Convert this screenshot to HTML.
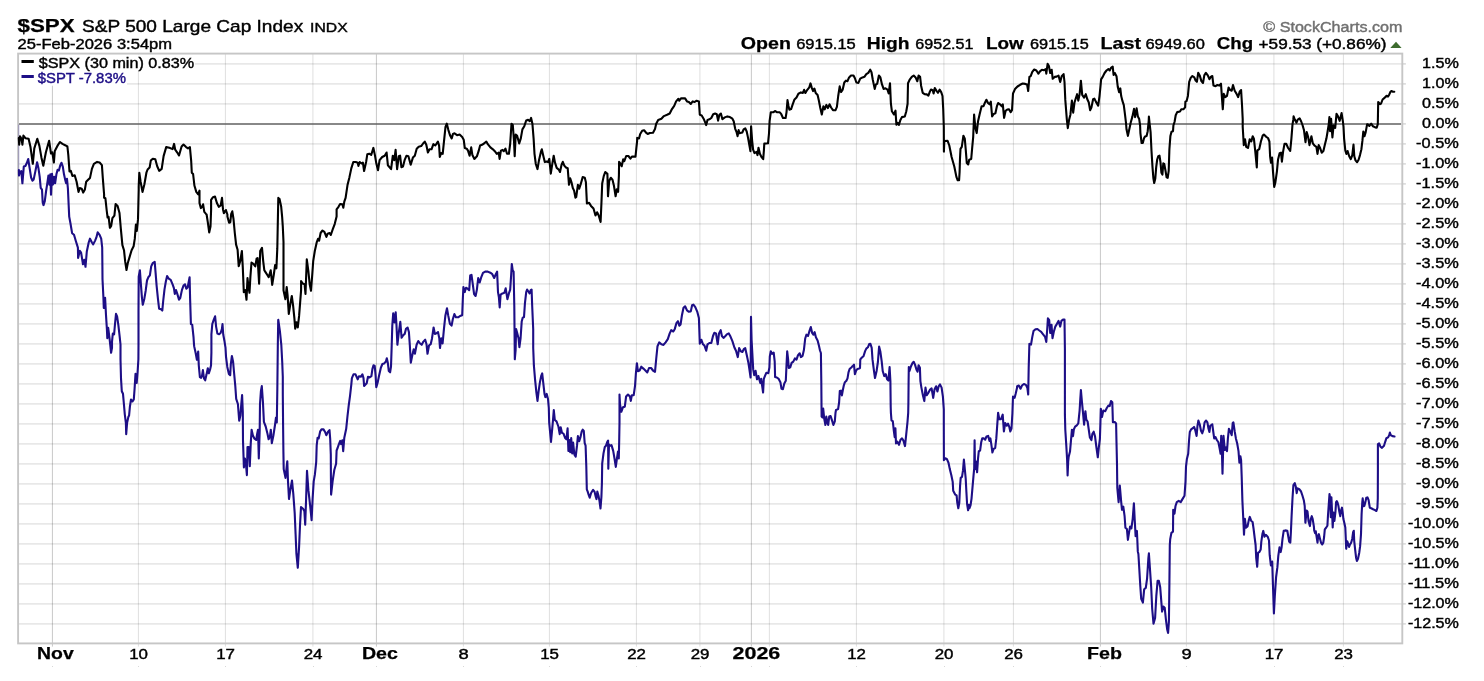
<!DOCTYPE html>
<html><head><meta charset="utf-8"><title>$SPX</title>
<style>html,body{margin:0;padding:0;background:#fff;}body{width:1484px;height:681px;overflow:hidden;font-family:"Liberation Sans",sans-serif;}svg{display:block;}text{font-family:"Liberation Sans",sans-serif;}</style>
</head><body><div style="will-change:transform;width:1484px;height:681px;">
<svg width="1484" height="681" viewBox="0 0 1484 681">
<rect x="0" y="0" width="1484" height="681" fill="#ffffff"/>
<g>
<line x1="18.1" y1="63.93" x2="1402.3" y2="63.93" stroke="rgba(0,0,0,0.16)" stroke-width="1"/>
<line x1="18.1" y1="83.93" x2="1402.3" y2="83.93" stroke="rgba(0,0,0,0.16)" stroke-width="1"/>
<line x1="18.1" y1="103.93" x2="1402.3" y2="103.93" stroke="rgba(0,0,0,0.16)" stroke-width="1"/>
<line x1="18.1" y1="143.93" x2="1402.3" y2="143.93" stroke="rgba(0,0,0,0.16)" stroke-width="1"/>
<line x1="18.1" y1="163.93" x2="1402.3" y2="163.93" stroke="rgba(0,0,0,0.16)" stroke-width="1"/>
<line x1="18.1" y1="183.93" x2="1402.3" y2="183.93" stroke="rgba(0,0,0,0.16)" stroke-width="1"/>
<line x1="18.1" y1="203.93" x2="1402.3" y2="203.93" stroke="rgba(0,0,0,0.16)" stroke-width="1"/>
<line x1="18.1" y1="223.93" x2="1402.3" y2="223.93" stroke="rgba(0,0,0,0.16)" stroke-width="1"/>
<line x1="18.1" y1="243.93" x2="1402.3" y2="243.93" stroke="rgba(0,0,0,0.16)" stroke-width="1"/>
<line x1="18.1" y1="263.93" x2="1402.3" y2="263.93" stroke="rgba(0,0,0,0.16)" stroke-width="1"/>
<line x1="18.1" y1="283.93" x2="1402.3" y2="283.93" stroke="rgba(0,0,0,0.16)" stroke-width="1"/>
<line x1="18.1" y1="303.93" x2="1402.3" y2="303.93" stroke="rgba(0,0,0,0.16)" stroke-width="1"/>
<line x1="18.1" y1="323.93" x2="1402.3" y2="323.93" stroke="rgba(0,0,0,0.16)" stroke-width="1"/>
<line x1="18.1" y1="343.93" x2="1402.3" y2="343.93" stroke="rgba(0,0,0,0.16)" stroke-width="1"/>
<line x1="18.1" y1="363.93" x2="1402.3" y2="363.93" stroke="rgba(0,0,0,0.16)" stroke-width="1"/>
<line x1="18.1" y1="383.93" x2="1402.3" y2="383.93" stroke="rgba(0,0,0,0.16)" stroke-width="1"/>
<line x1="18.1" y1="403.93" x2="1402.3" y2="403.93" stroke="rgba(0,0,0,0.16)" stroke-width="1"/>
<line x1="18.1" y1="423.93" x2="1402.3" y2="423.93" stroke="rgba(0,0,0,0.16)" stroke-width="1"/>
<line x1="18.1" y1="443.93" x2="1402.3" y2="443.93" stroke="rgba(0,0,0,0.16)" stroke-width="1"/>
<line x1="18.1" y1="463.93" x2="1402.3" y2="463.93" stroke="rgba(0,0,0,0.16)" stroke-width="1"/>
<line x1="18.1" y1="483.93" x2="1402.3" y2="483.93" stroke="rgba(0,0,0,0.16)" stroke-width="1"/>
<line x1="18.1" y1="503.93" x2="1402.3" y2="503.93" stroke="rgba(0,0,0,0.16)" stroke-width="1"/>
<line x1="18.1" y1="523.93" x2="1402.3" y2="523.93" stroke="rgba(0,0,0,0.16)" stroke-width="1"/>
<line x1="18.1" y1="543.93" x2="1402.3" y2="543.93" stroke="rgba(0,0,0,0.16)" stroke-width="1"/>
<line x1="18.1" y1="563.93" x2="1402.3" y2="563.93" stroke="rgba(0,0,0,0.16)" stroke-width="1"/>
<line x1="18.1" y1="583.93" x2="1402.3" y2="583.93" stroke="rgba(0,0,0,0.16)" stroke-width="1"/>
<line x1="18.1" y1="603.93" x2="1402.3" y2="603.93" stroke="rgba(0,0,0,0.16)" stroke-width="1"/>
<line x1="18.1" y1="623.93" x2="1402.3" y2="623.93" stroke="rgba(0,0,0,0.16)" stroke-width="1"/>
<line x1="52.42" y1="53.6" x2="52.42" y2="646.6" stroke="rgba(0,0,0,0.22)" stroke-width="1"/>
<line x1="138.42" y1="53.6" x2="138.42" y2="646.6" stroke="rgba(0,0,0,0.125)" stroke-width="1"/>
<line x1="225.42" y1="53.6" x2="225.42" y2="646.6" stroke="rgba(0,0,0,0.125)" stroke-width="1"/>
<line x1="312.92" y1="53.6" x2="312.92" y2="646.6" stroke="rgba(0,0,0,0.125)" stroke-width="1"/>
<line x1="376.42" y1="53.6" x2="376.42" y2="646.6" stroke="rgba(0,0,0,0.22)" stroke-width="1"/>
<line x1="463.42" y1="53.6" x2="463.42" y2="646.6" stroke="rgba(0,0,0,0.125)" stroke-width="1"/>
<line x1="549.42" y1="53.6" x2="549.42" y2="646.6" stroke="rgba(0,0,0,0.125)" stroke-width="1"/>
<line x1="636.42" y1="53.6" x2="636.42" y2="646.6" stroke="rgba(0,0,0,0.125)" stroke-width="1"/>
<line x1="699.92" y1="53.6" x2="699.92" y2="646.6" stroke="rgba(0,0,0,0.125)" stroke-width="1"/>
<line x1="751.37" y1="53.6" x2="751.37" y2="646.6" stroke="rgba(0,0,0,0.22)" stroke-width="1"/>
<line x1="769.37" y1="53.6" x2="769.37" y2="646.6" stroke="rgba(0,0,0,0.125)" stroke-width="1"/>
<line x1="856.42" y1="53.6" x2="856.42" y2="646.6" stroke="rgba(0,0,0,0.125)" stroke-width="1"/>
<line x1="943.92" y1="53.6" x2="943.92" y2="646.6" stroke="rgba(0,0,0,0.125)" stroke-width="1"/>
<line x1="1013.42" y1="53.6" x2="1013.42" y2="646.6" stroke="rgba(0,0,0,0.125)" stroke-width="1"/>
<line x1="1100.42" y1="53.6" x2="1100.42" y2="646.6" stroke="rgba(0,0,0,0.22)" stroke-width="1"/>
<line x1="1186.42" y1="53.6" x2="1186.42" y2="646.6" stroke="rgba(0,0,0,0.125)" stroke-width="1"/>
<line x1="1273.92" y1="53.6" x2="1273.92" y2="646.6" stroke="rgba(0,0,0,0.125)" stroke-width="1"/>
<line x1="1343.42" y1="53.6" x2="1343.42" y2="646.6" stroke="rgba(0,0,0,0.125)" stroke-width="1"/>
<line x1="1402.3" y1="63.93" x2="1405.8999999999999" y2="63.93" stroke="#c4c4c4" stroke-width="1"/>
<line x1="1402.3" y1="83.93" x2="1405.8999999999999" y2="83.93" stroke="#c4c4c4" stroke-width="1"/>
<line x1="1402.3" y1="103.93" x2="1405.8999999999999" y2="103.93" stroke="#c4c4c4" stroke-width="1"/>
<line x1="1402.3" y1="123.93" x2="1405.8999999999999" y2="123.93" stroke="#c4c4c4" stroke-width="1"/>
<line x1="1402.3" y1="143.93" x2="1405.8999999999999" y2="143.93" stroke="#c4c4c4" stroke-width="1"/>
<line x1="1402.3" y1="163.93" x2="1405.8999999999999" y2="163.93" stroke="#c4c4c4" stroke-width="1"/>
<line x1="1402.3" y1="183.93" x2="1405.8999999999999" y2="183.93" stroke="#c4c4c4" stroke-width="1"/>
<line x1="1402.3" y1="203.93" x2="1405.8999999999999" y2="203.93" stroke="#c4c4c4" stroke-width="1"/>
<line x1="1402.3" y1="223.93" x2="1405.8999999999999" y2="223.93" stroke="#c4c4c4" stroke-width="1"/>
<line x1="1402.3" y1="243.93" x2="1405.8999999999999" y2="243.93" stroke="#c4c4c4" stroke-width="1"/>
<line x1="1402.3" y1="263.93" x2="1405.8999999999999" y2="263.93" stroke="#c4c4c4" stroke-width="1"/>
<line x1="1402.3" y1="283.93" x2="1405.8999999999999" y2="283.93" stroke="#c4c4c4" stroke-width="1"/>
<line x1="1402.3" y1="303.93" x2="1405.8999999999999" y2="303.93" stroke="#c4c4c4" stroke-width="1"/>
<line x1="1402.3" y1="323.93" x2="1405.8999999999999" y2="323.93" stroke="#c4c4c4" stroke-width="1"/>
<line x1="1402.3" y1="343.93" x2="1405.8999999999999" y2="343.93" stroke="#c4c4c4" stroke-width="1"/>
<line x1="1402.3" y1="363.93" x2="1405.8999999999999" y2="363.93" stroke="#c4c4c4" stroke-width="1"/>
<line x1="1402.3" y1="383.93" x2="1405.8999999999999" y2="383.93" stroke="#c4c4c4" stroke-width="1"/>
<line x1="1402.3" y1="403.93" x2="1405.8999999999999" y2="403.93" stroke="#c4c4c4" stroke-width="1"/>
<line x1="1402.3" y1="423.93" x2="1405.8999999999999" y2="423.93" stroke="#c4c4c4" stroke-width="1"/>
<line x1="1402.3" y1="443.93" x2="1405.8999999999999" y2="443.93" stroke="#c4c4c4" stroke-width="1"/>
<line x1="1402.3" y1="463.93" x2="1405.8999999999999" y2="463.93" stroke="#c4c4c4" stroke-width="1"/>
<line x1="1402.3" y1="483.93" x2="1405.8999999999999" y2="483.93" stroke="#c4c4c4" stroke-width="1"/>
<line x1="1402.3" y1="503.93" x2="1405.8999999999999" y2="503.93" stroke="#c4c4c4" stroke-width="1"/>
<line x1="1402.3" y1="523.93" x2="1405.8999999999999" y2="523.93" stroke="#c4c4c4" stroke-width="1"/>
<line x1="1402.3" y1="543.93" x2="1405.8999999999999" y2="543.93" stroke="#c4c4c4" stroke-width="1"/>
<line x1="1402.3" y1="563.93" x2="1405.8999999999999" y2="563.93" stroke="#c4c4c4" stroke-width="1"/>
<line x1="1402.3" y1="583.93" x2="1405.8999999999999" y2="583.93" stroke="#c4c4c4" stroke-width="1"/>
<line x1="1402.3" y1="603.93" x2="1405.8999999999999" y2="603.93" stroke="#c4c4c4" stroke-width="1"/>
<line x1="1402.3" y1="623.93" x2="1405.8999999999999" y2="623.93" stroke="#c4c4c4" stroke-width="1"/>
</g>
<rect x="52" y="666" width="1" height="1" fill="#d8d8d8"/>
<rect x="138" y="666" width="1" height="1" fill="#d8d8d8"/>
<rect x="225" y="666" width="1" height="1" fill="#d8d8d8"/>
<rect x="313" y="666" width="1" height="1" fill="#d8d8d8"/>
<rect x="376" y="666" width="1" height="1" fill="#d8d8d8"/>
<rect x="463" y="666" width="1" height="1" fill="#d8d8d8"/>
<rect x="549" y="666" width="1" height="1" fill="#d8d8d8"/>
<rect x="636" y="666" width="1" height="1" fill="#d8d8d8"/>
<rect x="700" y="666" width="1" height="1" fill="#d8d8d8"/>
<rect x="751" y="666" width="1" height="1" fill="#d8d8d8"/>
<rect x="769" y="666" width="1" height="1" fill="#d8d8d8"/>
<rect x="856" y="666" width="1" height="1" fill="#d8d8d8"/>
<rect x="944" y="666" width="1" height="1" fill="#d8d8d8"/>
<rect x="1013" y="666" width="1" height="1" fill="#d8d8d8"/>
<rect x="1100" y="666" width="1" height="1" fill="#d8d8d8"/>
<rect x="1186" y="666" width="1" height="1" fill="#d8d8d8"/>
<rect x="1274" y="666" width="1" height="1" fill="#d8d8d8"/>
<rect x="1343" y="666" width="1" height="1" fill="#d8d8d8"/>
<rect x="19" y="54.5" width="176" height="16" fill="#fff"/>
<rect x="19" y="70.5" width="108" height="15.2" fill="#fff"/>
<line x1="18.1" y1="123.95" x2="1401.2" y2="123.95" stroke="#606060" stroke-width="1.6"/>
<rect x="18.1" y="53.6" width="1384.2" height="589.8" fill="none" stroke="#c6c6c6" stroke-width="1.9"/>
<line x1="18.8" y1="124.5" x2="18.8" y2="172" stroke="#1d0e86" stroke-width="1" opacity="0.3"/>
<path d="M18.9 170.0 L19.0 175.6 L20.0 171.8 L21.3 171.1 L22.4 183.3 L23.8 166.6 L25.4 166.0 L26.9 162.8 L28.2 159.0 L29.8 169.2 L31.1 177.5 L32.4 180.7 L33.7 179.4 L35.4 171.1 L37.1 162.2 L38.4 167.9 L39.7 176.9 L40.7 187.8 L42.0 189.7 L42.7 202.5 L43.5 205.1 L44.8 201.2 L46.1 191.0 L47.1 184.6 L48.4 175.6 L49.4 184.6 L50.3 174.3 L51.0 194.8 L52.0 173.7 L52.9 184.6 L54.2 176.9 L55.1 183.3 L56.4 174.3 L57.6 169.8 L58.9 170.5 L60.2 165.4 L61.5 162.8 L62.8 166.6 L64.0 174.3 L65.1 179.4 L66.1 183.3 L67.0 178.8 L67.9 188.4 L68.6 203.8 L69.2 216.6 L70.4 223.0 L72.1 233.2 L74.0 234.8 L75.9 241.2 L77.9 247.6 L78.1 257.9 L79.8 250.8 L81.1 252.7 L83.0 264.3 L84.3 259.8 L85.5 266.8 L86.8 251.5 L88.7 242.5 L90.0 238.7 L91.9 242.5 L93.2 244.4 L95.1 240.6 L96.4 237.4 L97.7 232.3 L99.6 234.8 L101.2 238.7 L102.2 247.6 L102.4 266.8 L102.5 279.2 L103.4 297.1 L103.8 308.0 L105.1 297.8 L106.0 315.1 L106.9 329.1 L107.3 338.1 L108.2 327.9 L109.5 338.1 L110.2 344.5 L111.1 352.8 L112.0 347.7 L112.0 341.9 L112.8 333.6 L114.1 334.3 L115.0 324.0 L116.0 313.8 L117.1 316.3 L118.4 325.3 L119.7 336.8 L120.5 344.5 L120.5 359.2 L121.0 378.4 L121.8 391.2 L123.0 393.8 L123.9 404.0 L124.8 414.3 L125.9 423.2 L126.2 434.2 L127.1 422.7 L128.4 416.8 L129.1 415.5 L129.9 406.6 L131.0 399.5 L132.5 401.5 L133.8 399.5 L134.6 388.7 L135.5 373.9 L136.7 382.9 L137.6 372.0 L138.4 359.2 L138.5 345.1 L138.5 311.2 L138.7 276.6 L139.9 270.2 L141.0 285.6 L141.9 297.1 L142.8 304.8 L144.4 298.4 L145.7 290.7 L147.0 280.5 L148.3 277.3 L149.9 275.4 L151.2 266.4 L152.7 263.2 L154.7 261.9 L155.6 272.8 L156.6 285.6 L157.9 298.4 L159.1 308.7 L161.1 309.3 L162.3 310.6 L163.2 301.0 L164.5 289.4 L165.8 281.8 L167.1 276.0 L168.7 278.6 L170.7 279.8 L172.6 284.3 L173.9 288.2 L174.8 293.9 L176.0 290.1 L177.3 293.9 L179.0 299.7 L180.3 297.8 L181.9 290.1 L183.5 285.6 L185.0 284.3 L186.3 288.8 L187.6 287.5 L188.6 282.4 L189.6 277.3 L190.1 298.4 L190.9 324.0 L192.2 324.7 L193.5 336.8 L194.0 344.5 L194.2 346.4 L195.6 352.8 L196.9 359.8 L198.2 351.5 L198.8 365.6 L199.9 377.1 L201.1 377.8 L202.0 375.9 L202.9 370.1 L204.0 378.4 L205.2 380.3 L206.5 374.6 L207.8 368.2 L208.8 373.3 L210.1 369.4 L211.0 365.6 L211.4 352.8 L211.4 343.8 L211.4 334.3 L212.3 324.0 L213.6 320.2 L215.1 316.3 L216.1 326.6 L217.4 333.6 L219.1 334.3 L220.6 333.0 L221.9 329.1 L222.5 324.0 L223.2 334.3 L224.4 340.7 L225.2 345.8 L225.5 347.7 L226.0 356.6 L227.3 366.9 L228.9 373.9 L230.2 375.2 L230.8 364.3 L231.9 356.0 L233.1 361.8 L234.0 372.0 L235.3 386.1 L236.2 398.9 L237.9 404.0 L239.2 420.7 L240.4 415.5 L241.3 404.0 L242.1 395.1 L242.8 411.7 L243.0 440.6 L243.9 467.5 L244.9 458.5 L246.0 464.9 L246.9 475.2 L247.5 447.0 L248.8 447.0 L249.8 466.2 L250.7 444.4 L251.6 429.7 L252.9 435.5 L254.5 438.7 L256.2 440.0 L257.1 434.2 L258.0 429.7 L258.8 458.5 L259.7 430.4 L260.0 404.0 L260.9 391.2 L261.8 386.1 L262.9 401.5 L263.9 421.9 L265.7 426.5 L267.3 432.9 L268.6 439.3 L269.9 436.8 L270.8 429.7 L271.8 443.2 L273.4 435.5 L275.0 425.0 L276.0 417.5 L276.8 422.5 L277.3 391.0 L277.8 347.0 L278.2 320.2 L278.3 319.8 L280.0 332.0 L281.3 344.8 L282.2 361.5 L282.8 376.8 L282.8 394.2 L283.1 426.2 L283.4 451.8 L283.7 469.1 L285.5 477.9 L287.3 461.2 L288.0 481.4 L289.0 499.0 L290.3 490.2 L292.0 480.5 L293.3 493.8 L294.7 513.1 L295.6 534.3 L296.4 553.7 L297.8 567.8 L299.1 546.6 L300.0 525.5 L301.0 507.0 L303.1 508.7 L304.4 511.4 L305.2 524.6 L306.1 499.0 L307.0 470.9 L308.4 490.2 L310.2 506.1 L311.6 520.2 L312.6 499.0 L313.7 481.4 L314.9 474.4 L316.2 462.0 L316.7 445.4 L317.6 437.7 L318.7 438.4 L320.2 431.3 L321.5 429.4 L323.5 429.4 L325.1 432.0 L326.3 435.2 L327.9 432.0 L329.5 430.1 L330.2 439.0 L330.8 454.4 L330.9 476.1 L331.1 494.6 L332.6 481.4 L334.3 470.0 L336.1 463.8 L336.6 450.5 L337.6 448.0 L338.9 444.1 L340.2 440.9 L341.1 444.1 L342.3 440.3 L343.2 451.2 L344.3 437.7 L346.2 428.8 L347.5 416.0 L348.7 405.7 L350.0 396.1 L351.3 384.6 L351.9 378.1 L353.5 374.3 L355.5 374.3 L357.7 379.4 L359.0 376.2 L360.9 376.8 L362.4 374.3 L363.5 378.1 L364.0 384.5 L364.1 385.9 L366.7 383.2 L368.0 376.8 L369.6 377.5 L371.4 376.2 L372.4 369.1 L373.5 365.3 L374.7 365.9 L375.6 375.5 L376.1 384.5 L376.3 387.2 L377.8 381.9 L379.1 375.5 L380.8 367.9 L382.4 364.0 L384.2 363.4 L385.9 361.5 L386.8 358.3 L387.8 362.7 L388.8 371.1 L390.1 372.3 L391.0 366.6 L391.6 348.7 L392.3 325.6 L393.2 313.4 L394.5 322.4 L395.7 312.2 L396.5 325.6 L397.4 344.8 L398.7 333.3 L400.3 321.8 L401.6 337.8 L403.2 335.2 L404.7 333.9 L406.0 328.8 L407.6 327.5 L408.9 332.0 L409.8 344.8 L410.8 362.7 L412.1 356.3 L413.7 349.3 L414.9 353.8 L416.6 344.8 L418.3 341.0 L420.1 343.5 L421.7 344.8 L423.4 341.6 L425.2 339.7 L426.5 344.2 L427.5 353.8 L429.0 345.5 L430.7 344.2 L432.0 338.4 L433.6 327.5 L434.9 333.9 L436.5 333.3 L438.0 332.0 L439.3 338.4 L440.0 348.0 L441.3 338.4 L442.6 343.5 L443.9 329.4 L445.4 315.4 L447.0 308.3 L448.2 315.4 L449.9 323.7 L451.6 325.6 L452.8 319.2 L454.4 314.1 L455.9 317.3 L458.2 317.3 L460.0 316.0 L462.2 315.2 L462.8 299.8 L463.4 287.0 L464.7 292.1 L466.0 287.7 L467.9 288.9 L469.2 290.2 L470.2 275.5 L471.5 274.8 L472.8 284.4 L474.1 294.1 L475.6 296.0 L476.9 289.6 L478.2 278.0 L479.7 282.5 L481.4 276.8 L483.0 272.9 L485.2 271.6 L487.8 271.6 L490.3 272.7 L492.3 274.2 L494.2 278.0 L495.8 274.2 L497.1 271.6 L498.0 292.1 L498.9 297.3 L499.7 307.5 L500.6 294.7 L502.5 293.4 L504.4 292.8 L505.7 288.3 L507.4 299.2 L508.9 293.4 L510.2 289.6 L511.2 274.2 L511.8 264.0 L512.7 270.4 L513.6 271.6 L514.3 306.2 L514.8 359.3 L515.6 350.4 L516.1 329.0 L517.2 333.1 L518.5 338.2 L519.4 347.2 L520.6 338.0 L521.7 321.6 L522.7 317.7 L524.0 317.1 L524.9 303.7 L526.2 292.1 L527.1 289.6 L528.4 291.5 L529.6 293.4 L530.7 290.2 L531.6 289.6 L532.2 306.2 L533.2 329.3 L533.2 347.8 L533.9 365.7 L535.1 379.8 L536.4 392.6 L537.5 400.9 L538.6 391.3 L539.9 382.4 L541.2 376.0 L542.2 373.4 L543.2 382.4 L544.5 393.9 L545.4 397.1 L546.7 393.9 L548.0 399.0 L548.8 408.0 L549.2 422.7 L549.7 427.8 L551.0 441.9 L552.3 427.8 L553.0 420.1 L553.8 410.0 L554.8 420.0 L556.5 421.4 L558.4 426.5 L559.7 434.2 L560.7 427.2 L562.0 432.9 L563.5 433.6 L565.1 438.0 L566.4 439.3 L567.6 428.4 L568.4 450.9 L569.3 440.0 L570.2 452.1 L571.2 438.0 L572.2 453.4 L573.1 442.5 L574.4 454.7 L575.7 456.6 L577.0 445.7 L577.9 436.1 L579.2 441.2 L580.4 437.4 L581.7 431.6 L582.7 429.7 L583.8 431.0 L584.7 443.2 L585.6 445.7 L586.3 466.2 L586.8 489.3 L587.7 491.6 L588.7 495.0 L589.7 497.7 L591.1 493.0 L593.1 489.9 L594.5 491.6 L595.8 497.0 L596.5 499.1 L597.3 491.6 L598.5 495.7 L599.5 501.1 L600.5 508.5 L601.4 497.0 L601.9 483.5 L602.2 463.7 L603.5 453.4 L604.8 447.0 L606.0 445.7 L607.3 441.9 L608.1 440.6 L608.3 468.8 L609.0 444.4 L610.3 445.7 L611.5 445.1 L613.2 450.9 L614.5 458.5 L615.8 466.9 L617.1 457.3 L618.0 451.5 L618.8 458.5 L619.2 440.6 L619.5 422.7 L619.5 394.5 L620.0 404.1 L621.3 411.8 L622.9 407.3 L624.8 406.7 L626.1 396.5 L628.0 394.5 L629.9 396.5 L630.8 400.9 L631.8 395.2 L633.7 395.2 L635.0 386.2 L635.9 373.4 L636.9 363.2 L637.9 371.2 L639.6 370.5 L641.3 366.7 L643.4 368.6 L645.4 370.5 L647.3 372.5 L649.0 368.0 L651.1 368.0 L653.0 370.5 L655.0 371.8 L656.2 359.0 L657.5 346.2 L659.2 342.4 L661.4 344.3 L663.5 344.9 L665.6 342.4 L667.8 339.2 L669.7 333.4 L671.2 330.2 L673.3 331.5 L674.8 328.9 L676.4 323.2 L678.0 321.2 L679.3 325.7 L680.6 324.4 L681.9 315.5 L683.5 307.8 L685.1 306.3 L687.0 310.4 L688.6 311.6 L690.8 311.4 L692.1 305.2 L693.4 304.6 L695.3 307.2 L697.2 311.6 L698.9 318.0 L699.8 343.7 L701.4 339.8 L703.0 344.3 L704.5 345.6 L706.2 350.7 L707.5 344.3 L709.4 343.0 L711.3 343.0 L713.0 336.0 L714.3 332.8 L716.0 333.4 L717.7 344.3 L719.0 333.4 L720.7 330.2 L721.9 336.0 L723.5 337.9 L725.4 336.0 L727.1 334.1 L728.8 333.4 L730.5 336.6 L732.4 341.1 L734.4 347.5 L736.0 350.7 L737.8 357.1 L739.1 348.1 L740.8 351.3 L742.4 352.0 L744.0 348.8 L745.2 348.1 L746.8 355.2 L748.4 362.9 L749.1 367.3 L750.6 377.5 L751.0 316.8 L751.6 340.0 L753.2 369.4 L754.2 375.1 L755.6 370.8 L757.0 379.3 L758.4 376.0 L760.3 383.1 L761.2 378.9 L763.1 392.5 L763.8 378.9 L765.3 375.1 L766.4 372.7 L768.3 373.2 L769.4 367.5 L769.8 356.5 L770.8 351.3 L772.1 353.9 L773.7 352.6 L774.7 361.6 L775.1 377.0 L776.8 377.5 L778.7 378.9 L780.4 382.2 L781.5 388.8 L782.9 389.2 L784.3 383.6 L785.8 380.8 L786.5 365.4 L787.2 351.3 L788.1 359.0 L788.8 368.0 L790.3 367.3 L791.6 362.9 L793.3 361.6 L794.9 358.4 L796.5 359.7 L798.0 355.2 L799.7 353.3 L800.9 357.1 L802.6 355.8 L803.9 350.1 L805.2 338.5 L806.4 334.7 L808.0 336.0 L809.5 330.9 L810.8 327.0 L812.1 332.8 L813.4 334.7 L814.6 332.1 L815.9 337.3 L817.6 340.5 L818.9 345.6 L820.0 350.5 L820.9 353.0 L821.3 381.2 L821.6 416.6 L822.5 417.5 L823.2 408.6 L824.2 418.5 L825.4 425.0 L826.3 416.6 L827.3 422.3 L828.2 425.0 L829.2 416.6 L830.6 416.1 L832.0 420.4 L833.4 425.0 L834.8 421.3 L835.5 412.8 L836.0 410.0 L838.1 409.1 L839.1 402.5 L839.8 391.1 L840.9 390.7 L841.9 395.4 L842.8 390.2 L843.8 385.5 L844.9 382.2 L846.4 380.8 L847.5 378.4 L848.5 372.3 L849.6 369.0 L851.3 367.5 L852.7 366.1 L854.0 364.7 L854.9 374.2 L856.2 370.4 L857.5 369.0 L859.1 368.5 L860.0 368.0 L860.3 359.4 L861.9 357.5 L863.5 356.2 L865.1 351.1 L866.3 348.6 L867.9 347.3 L869.2 344.1 L870.4 343.8 L871.7 347.9 L872.5 359.4 L873.8 369.7 L875.0 378.0 L876.6 371.0 L877.9 362.0 L879.1 346.6 L880.4 351.8 L881.7 361.4 L882.7 371.0 L884.3 376.1 L885.8 374.2 L887.1 379.3 L888.4 380.6 L889.6 367.1 L890.4 381.2 L890.7 406.8 L890.9 412.8 L891.5 420.5 L892.8 421.1 L893.8 430.7 L894.7 437.1 L895.4 428.2 L896.0 443.5 L897.3 441.6 L899.0 444.8 L900.5 439.7 L902.0 438.4 L903.3 440.3 L905.0 446.1 L906.2 434.6 L907.5 421.8 L908.2 412.8 L908.4 402.6 L908.6 381.2 L908.8 367.1 L909.5 371.0 L910.9 366.5 L912.4 363.3 L913.7 361.8 L915.0 364.6 L916.5 369.7 L917.6 371.6 L918.6 365.2 L919.9 367.8 L920.4 381.2 L921.4 387.6 L922.9 395.3 L924.3 401.1 L925.5 387.6 L926.8 395.3 L928.4 392.7 L930.1 389.5 L931.6 388.3 L933.2 397.9 L934.5 389.5 L936.1 386.3 L937.4 391.5 L938.7 386.3 L940.0 384.4 L941.6 387.6 L942.9 396.6 L943.8 409.4 L943.8 425.6 L943.9 460.2 L945.3 458.3 L946.8 458.9 L948.5 462.7 L949.8 469.1 L951.4 475.5 L952.7 481.9 L953.2 490.7 L955.3 494.7 L956.6 495.4 L957.3 502.8 L958.3 508.2 L959.3 502.8 L960.1 485.3 L960.7 477.8 L962.0 476.8 L963.0 470.4 L963.9 459.5 L965.7 478.5 L966.4 492.0 L967.1 504.2 L968.1 510.3 L968.8 504.9 L969.5 508.2 L970.5 505.5 L971.5 498.8 L972.5 487.3 L973.5 475.8 L974.2 468.4 L974.6 440.3 L975.0 469.1 L976.0 461.5 L977.1 472.3 L978.0 458.9 L978.8 451.2 L980.1 450.6 L981.2 442.3 L982.2 438.4 L983.7 438.4 L985.2 439.7 L986.5 436.5 L988.2 435.9 L989.5 441.0 L990.4 438.4 L991.4 444.8 L992.4 452.5 L993.7 448.7 L995.2 448.0 L996.3 438.4 L997.2 425.6 L998.1 412.8 L999.3 419.2 L1001.0 419.2 L1002.7 414.7 L1003.9 431.4 L1005.2 423.0 L1006.8 425.6 L1008.0 423.7 L1009.3 426.9 L1010.3 431.4 L1011.5 428.5 L1012.4 413.2 L1013.0 396.5 L1014.6 397.8 L1015.6 394.0 L1017.1 387.6 L1017.1 386.2 L1018.8 385.5 L1020.5 388.7 L1022.0 385.5 L1023.9 384.0 L1025.9 384.9 L1027.4 388.1 L1028.2 394.5 L1028.7 367.6 L1029.4 343.9 L1031.0 344.6 L1032.3 336.9 L1033.5 331.1 L1035.5 329.2 L1037.4 329.0 L1039.3 330.5 L1041.2 331.8 L1043.1 334.3 L1045.1 336.9 L1046.3 342.0 L1047.4 326.6 L1047.9 318.3 L1049.2 320.2 L1050.2 333.0 L1051.5 324.7 L1052.5 338.2 L1053.8 331.8 L1055.3 326.6 L1056.8 324.1 L1058.5 320.9 L1060.2 326.6 L1061.4 320.9 L1063.0 319.6 L1064.5 319.6 L1064.9 348.4 L1064.9 386.8 L1064.9 414.4 L1065.3 429.8 L1066.2 443.9 L1067.1 459.3 L1067.6 475.5 L1068.2 461.5 L1068.7 456.7 L1070.0 451.6 L1070.9 441.3 L1071.9 429.8 L1073.0 436.2 L1073.9 429.2 L1075.1 426.6 L1076.8 425.3 L1078.3 423.4 L1079.6 410.6 L1080.3 399.1 L1080.9 390.1 L1081.9 401.6 L1082.8 410.6 L1084.1 424.7 L1085.4 411.2 L1086.3 419.6 L1087.6 421.5 L1088.6 428.5 L1089.9 437.5 L1091.4 440.1 L1092.4 433.7 L1093.7 431.7 L1095.0 436.2 L1096.3 446.5 L1097.8 457.3 L1098.8 447.7 L1099.9 438.8 L1100.4 423.4 L1100.8 408.7 L1102.0 417.0 L1103.3 410.6 L1105.2 411.2 L1106.8 408.0 L1108.4 405.5 L1109.7 406.1 L1111.0 401.0 L1112.3 402.3 L1112.9 422.1 L1114.8 422.1 L1116.1 423.4 L1116.5 442.6 L1117.0 464.4 L1117.3 488.0 L1118.6 502.1 L1119.8 485.5 L1121.1 500.9 L1122.0 509.8 L1123.3 506.6 L1124.6 516.2 L1125.4 527.7 L1126.9 529.0 L1127.9 539.9 L1129.2 531.6 L1130.1 526.5 L1131.4 528.4 L1132.7 518.8 L1133.9 503.4 L1134.8 521.3 L1135.6 536.1 L1136.9 530.9 L1137.4 541.8 L1137.8 551.4 L1138.4 554.0 L1139.4 570.6 L1140.3 586.0 L1141.2 598.8 L1142.9 602.6 L1144.2 589.2 L1145.8 587.9 L1147.1 578.3 L1148.4 557.8 L1148.9 553.3 L1149.9 568.0 L1151.2 587.3 L1152.2 609.0 L1153.5 623.7 L1155.1 618.0 L1156.3 596.2 L1157.6 580.9 L1158.9 580.9 L1160.2 587.3 L1161.2 600.1 L1162.1 611.6 L1163.4 606.5 L1164.7 607.7 L1165.9 619.3 L1167.2 629.5 L1168.1 633.0 L1168.9 621.8 L1169.4 583.4 L1169.8 545.0 L1170.2 539.3 L1171.4 532.9 L1173.0 531.6 L1173.2 509.8 L1174.5 513.7 L1175.5 506.0 L1176.8 502.1 L1178.7 500.9 L1180.7 502.1 L1182.6 498.9 L1184.5 495.7 L1185.5 481.6 L1186.0 466.6 L1186.9 458.9 L1188.2 453.8 L1189.0 441.0 L1189.8 432.0 L1191.1 429.4 L1192.8 428.2 L1194.1 426.9 L1195.4 430.7 L1196.6 435.9 L1197.5 425.6 L1198.4 420.5 L1199.7 424.3 L1201.0 430.7 L1202.3 433.3 L1203.5 429.4 L1204.6 422.4 L1206.1 420.5 L1207.4 422.4 L1208.4 428.2 L1209.4 432.0 L1210.3 425.6 L1211.6 425.0 L1212.3 424.3 L1213.3 432.0 L1214.2 438.4 L1215.5 437.1 L1216.7 439.7 L1218.4 442.3 L1219.7 448.7 L1220.6 453.8 L1221.2 435.9 L1221.9 451.2 L1222.5 473.6 L1223.5 435.9 L1224.8 449.9 L1226.1 447.4 L1227.0 451.2 L1227.9 438.4 L1228.9 428.8 L1230.2 431.4 L1231.7 435.2 L1232.7 423.0 L1233.4 422.4 L1234.7 431.4 L1235.9 438.4 L1237.2 443.5 L1238.5 451.2 L1239.4 462.7 L1240.4 456.3 L1241.1 460.2 L1241.7 476.8 L1242.4 500.9 L1243.4 521.3 L1244.0 534.8 L1244.9 518.8 L1246.0 527.7 L1247.5 526.5 L1248.8 520.1 L1249.8 516.9 L1251.1 520.7 L1252.6 522.0 L1253.6 529.0 L1254.7 538.0 L1255.6 545.0 L1256.2 557.8 L1257.2 566.8 L1258.1 552.7 L1259.4 552.0 L1260.7 549.5 L1261.3 541.8 L1262.4 534.1 L1263.3 530.9 L1264.5 536.7 L1265.8 534.8 L1267.7 536.7 L1269.0 540.5 L1269.7 555.2 L1270.9 565.5 L1272.2 561.6 L1272.9 583.4 L1273.9 613.5 L1274.8 596.2 L1276.1 577.0 L1277.4 567.2 L1278.3 555.8 L1279.5 547.4 L1280.7 552.1 L1281.6 547.4 L1282.5 538.9 L1283.7 530.8 L1285.4 530.4 L1287.3 530.8 L1288.2 536.0 L1289.2 541.7 L1290.3 542.6 L1290.9 532.0 L1291.6 516.0 L1292.5 498.3 L1293.4 485.1 L1294.8 483.2 L1295.9 487.0 L1296.7 493.1 L1297.6 488.4 L1299.3 489.3 L1300.9 491.2 L1302.4 495.5 L1303.8 500.2 L1304.7 505.8 L1305.4 522.8 L1306.6 510.6 L1307.5 511.5 L1308.5 520.9 L1309.9 526.1 L1310.8 519.1 L1311.8 516.2 L1312.7 519.1 L1313.9 526.6 L1314.2 530.4 L1315.1 533.2 L1315.8 531.3 L1316.5 536.0 L1317.5 542.6 L1318.2 536.0 L1318.9 534.2 L1319.8 537.9 L1321.0 542.6 L1322.2 544.5 L1323.3 542.6 L1324.1 537.0 L1324.8 529.4 L1325.9 528.0 L1327.4 525.7 L1328.0 515.3 L1328.8 504.0 L1329.5 494.1 L1330.2 498.3 L1330.8 517.2 L1331.4 497.4 L1332.1 512.5 L1332.7 527.5 L1333.5 512.5 L1334.4 520.9 L1335.4 512.5 L1336.1 502.1 L1336.8 501.1 L1337.5 502.5 L1338.4 505.8 L1339.3 511.5 L1340.3 516.2 L1341.0 510.6 L1342.0 507.7 L1342.7 512.5 L1343.4 519.1 L1344.3 522.8 L1345.3 527.5 L1345.8 538.9 L1346.2 548.8 L1347.2 541.2 L1348.1 543.6 L1349.1 546.9 L1350.0 544.5 L1351.2 542.6 L1352.2 538.9 L1353.1 532.3 L1353.8 530.8 L1354.2 540.8 L1355.2 550.2 L1356.1 557.7 L1356.9 561.0 L1358.0 558.7 L1359.2 553.0 L1360.1 546.4 L1361.0 534.2 L1361.6 514.3 L1362.3 502.1 L1362.7 498.3 L1363.5 506.3 L1364.4 505.8 L1365.4 502.1 L1366.3 497.8 L1367.5 497.4 L1368.6 500.2 L1369.8 507.7 L1371.2 508.2 L1373.1 509.2 L1375.0 510.1 L1376.4 511.0 L1377.4 507.7 L1377.8 498.3 L1377.9 470.0 L1377.9 444.2 L1379.1 443.4 L1380.4 446.6 L1382.0 447.8 L1384.0 445.8 L1385.2 441.8 L1386.4 438.2 L1388.0 437.4 L1389.2 435.3 L1389.9 432.5 L1390.8 435.3 L1392.5 436.1 L1394.5 436.5" fill="none" stroke="#1d0e86" stroke-width="2.1" stroke-linejoin="round" stroke-linecap="round"/>
<path d="M18.8 138.0 L19.2 144.6 L20.0 136.2 L21.5 138.8 L22.4 144.6 L23.4 135.6 L25.4 138.2 L28.6 138.8 L30.5 147.1 L32.8 163.8 L34.3 148.4 L37.3 138.8 L39.4 145.9 L41.4 157.4 L43.3 165.7 L45.9 152.3 L49.1 140.7 L51.0 153.5 L52.3 152.3 L53.9 162.5 L54.8 151.0 L57.4 145.9 L59.9 142.0 L62.5 143.9 L65.1 145.2 L67.4 146.5 L68.3 154.8 L69.5 171.5 L70.8 170.8 L72.4 175.9 L74.7 175.3 L76.6 181.7 L78.5 191.9 L79.8 188.1 L81.7 188.7 L83.2 192.6 L84.9 189.4 L86.2 181.7 L88.1 179.8 L90.0 177.9 L91.9 168.9 L93.9 163.8 L97.1 161.9 L99.6 162.5 L101.9 165.1 L102.8 177.9 L104.1 194.5 L104.1 197.7 L105.4 198.3 L106.7 210.5 L107.6 217.5 L108.6 216.9 L109.9 227.8 L111.2 225.9 L112.4 218.2 L114.4 215.6 L115.6 204.1 L117.6 206.0 L119.5 213.0 L120.8 228.4 L122.4 245.1 L124.0 250.2 L125.2 261.7 L126.5 270.0 L127.8 263.0 L129.7 256.6 L131.6 250.2 L133.6 246.3 L134.8 238.7 L135.9 224.6 L136.8 231.0 L138.0 219.4 L138.4 202.8 L138.7 190.0 L138.7 186.8 L139.3 172.7 L140.6 181.7 L142.5 191.9 L144.4 184.3 L146.4 172.7 L147.6 169.5 L149.6 167.6 L150.8 160.6 L152.8 158.7 L155.3 159.3 L157.2 166.3 L159.2 170.8 L161.7 168.9 L163.6 156.1 L166.2 147.1 L169.4 147.8 L172.6 149.1 L174.1 143.9 L175.2 149.7 L177.1 152.3 L179.0 155.5 L181.6 146.5 L183.5 144.6 L186.1 147.1 L188.0 148.4 L189.9 147.1 L191.2 161.2 L191.8 172.7 L193.1 174.0 L194.4 185.5 L196.3 191.9 L198.2 194.5 L199.5 190.7 L199.5 203.0 L200.9 208.1 L202.2 206.8 L203.1 204.3 L204.3 211.9 L206.0 213.9 L206.6 214.5 L207.9 222.8 L209.2 232.4 L210.5 226.6 L211.1 210.0 L211.1 199.8 L213.0 197.2 L215.0 196.6 L216.9 203.0 L218.8 206.8 L220.7 205.5 L222.0 197.9 L223.0 209.4 L223.9 213.2 L225.9 210.0 L227.4 214.5 L227.4 216.4 L229.1 222.8 L230.3 222.2 L231.2 213.8 L232.3 211.3 L233.5 219.0 L234.8 233.0 L236.1 244.6 L237.6 249.7 L238.7 266.3 L240.2 261.2 L241.9 251.0 L242.8 267.6 L243.8 292.2 L245.3 290.0 L246.5 299.8 L247.5 278.1 L248.5 287.0 L249.5 292.8 L250.4 276.8 L251.5 262.5 L253.4 263.8 L255.3 266.3 L256.6 258.7 L257.6 258.0 L259.1 283.6 L260.2 251.0 L262.0 247.8 L263.2 261.2 L264.3 270.2 L265.5 272.1 L267.5 275.3 L268.7 277.2 L270.7 270.2 L272.2 284.9 L273.9 274.0 L275.1 265.1 L276.4 268.3 L277.3 248.4 L277.8 222.8 L278.3 197.9 L279.6 199.1 L281.2 206.8 L282.2 217.7 L282.8 226.6 L283.5 242.0 L283.5 281.7 L283.5 290.2 L285.4 299.2 L286.7 287.0 L287.6 295.4 L288.8 313.9 L290.5 303.0 L291.8 296.0 L293.1 305.6 L294.4 318.4 L295.2 328.7 L296.5 322.3 L297.8 327.4 L299.1 315.9 L300.4 299.2 L301.1 290.2 L301.1 281.1 L302.7 283.6 L304.6 284.3 L305.5 293.9 L306.8 259.3 L308.4 271.5 L309.7 284.3 L311.0 290.7 L312.3 274.0 L313.2 261.2 L314.8 251.0 L316.8 242.0 L318.0 238.8 L319.1 240.7 L320.6 233.0 L322.5 230.5 L324.4 231.8 L326.4 236.9 L327.6 233.7 L329.6 233.0 L330.8 235.0 L332.8 229.2 L334.7 224.1 L336.6 216.4 L336.6 209.4 L338.5 206.8 L340.1 204.0 L342.4 204.3 L343.3 207.8 L344.3 201.7 L345.6 197.9 L347.5 185.1 L349.4 177.4 L351.3 168.4 L353.3 162.0 L355.8 162.0 L357.7 162.7 L358.4 165.9 L359.7 162.0 L361.6 163.5 L362.9 162.7 L364.1 171.0 L366.1 162.0 L367.3 154.3 L369.3 153.7 L371.2 155.0 L373.4 147.9 L375.0 155.6 L376.3 163.3 L378.0 170.3 L379.6 160.2 L382.2 157.0 L384.7 155.7 L386.6 152.5 L387.9 165.3 L391.1 169.1 L392.8 155.7 L394.3 160.2 L395.6 149.9 L397.1 169.1 L398.8 156.3 L400.1 155.7 L401.4 167.2 L403.0 166.6 L404.6 160.2 L406.5 155.7 L408.4 156.3 L410.7 164.7 L412.9 157.6 L414.8 155.7 L416.7 148.7 L418.7 146.7 L421.2 146.1 L423.1 143.5 L424.8 141.6 L426.3 144.8 L427.9 152.5 L429.5 149.3 L431.5 149.3 L433.4 144.2 L435.3 145.5 L437.9 141.6 L439.1 145.5 L439.8 157.0 L441.1 153.1 L442.7 153.8 L444.3 138.4 L445.5 126.9 L446.8 123.7 L448.4 130.1 L450.0 135.2 L451.7 138.4 L453.0 133.9 L454.5 133.3 L457.1 135.2 L459.6 134.6 L462.2 137.1 L463.7 139.7 L464.8 148.0 L466.7 148.7 L468.0 150.6 L469.6 155.7 L471.2 147.4 L472.4 155.1 L474.4 158.9 L476.9 156.3 L478.6 151.2 L480.1 145.5 L482.0 144.8 L484.0 143.5 L486.3 141.6 L487.8 144.2 L490.4 147.4 L492.9 149.3 L494.8 151.2 L496.8 153.8 L498.7 152.5 L499.6 158.9 L500.9 150.6 L502.5 149.9 L503.8 151.2 L505.5 148.7 L507.0 153.8 L508.9 153.8 L510.2 143.5 L511.5 123.7 L512.8 125.0 L514.0 141.0 L514.7 156.3 L515.7 134.6 L517.2 135.9 L519.2 143.5 L520.8 138.4 L522.4 129.4 L524.3 126.2 L526.2 120.5 L528.1 119.8 L529.8 121.1 L531.1 117.9 L532.4 123.7 L533.6 138.4 L534.5 153.8 L535.8 164.0 L537.5 169.1 L539.0 160.2 L540.9 151.9 L541.8 149.3 L543.1 155.1 L544.8 162.1 L546.7 161.5 L548.0 162.1 L549.3 158.9 L550.8 173.6 L552.5 162.7 L553.7 155.7 L555.0 162.7 L556.7 167.9 L558.9 169.8 L560.0 172.0 L561.5 165.0 L562.8 161.8 L564.3 165.6 L566.0 167.5 L567.7 168.2 L569.0 184.8 L570.2 178.4 L571.5 182.3 L572.8 188.0 L574.1 190.6 L575.4 197.6 L576.2 197.0 L577.9 184.8 L579.2 188.7 L580.7 184.2 L582.7 177.1 L584.8 177.8 L585.9 182.3 L586.9 203.4 L589.1 202.7 L591.0 205.9 L593.5 208.5 L595.5 215.5 L597.1 212.3 L598.7 215.5 L600.6 221.9 L601.5 201.5 L602.2 183.5 L603.8 175.9 L605.3 172.0 L607.4 173.9 L608.0 196.3 L609.2 181.0 L610.8 177.8 L612.5 179.7 L614.0 186.1 L615.6 196.3 L616.8 189.3 L618.1 191.9 L618.9 175.9 L619.1 161.8 L620.4 163.7 L621.7 166.2 L623.2 159.2 L624.3 161.1 L626.2 156.0 L628.4 156.0 L630.4 158.6 L631.9 156.6 L635.5 156.6 L636.4 147.7 L637.1 141.3 L637.2 137.9 L639.0 138.5 L640.2 134.0 L642.2 130.8 L644.1 130.2 L646.0 132.7 L647.7 134.0 L649.8 133.0 L653.0 132.7 L655.0 128.9 L656.2 123.8 L658.2 119.9 L661.4 118.7 L663.9 116.1 L667.1 114.8 L669.7 113.5 L671.6 109.7 L674.2 105.9 L676.1 101.4 L678.4 98.8 L679.3 100.7 L681.2 98.2 L685.1 98.4 L687.0 101.4 L688.9 102.0 L690.8 103.9 L692.7 101.4 L694.7 102.0 L696.6 100.7 L698.9 101.4 L699.8 114.8 L701.7 115.5 L703.6 118.7 L705.5 123.1 L706.2 125.1 L707.5 119.9 L709.4 119.3 L711.3 118.0 L713.2 114.2 L715.1 113.5 L716.8 114.2 L718.1 120.6 L719.4 114.8 L720.9 113.5 L722.4 119.3 L724.8 117.4 L727.3 116.4 L729.9 117.1 L732.4 118.7 L733.7 121.2 L735.2 128.8 L736.6 132.2 L737.6 136.2 L738.6 130.1 L739.6 133.2 L742.3 132.5 L743.6 129.5 L745.3 128.4 L746.7 131.5 L748.0 137.6 L749.7 147.0 L750.4 151.1 L751.1 126.4 L752.1 140.3 L753.1 149.7 L754.5 153.1 L756.5 151.8 L757.5 155.1 L758.5 147.7 L759.9 153.8 L761.6 157.2 L763.2 159.2 L763.9 150.4 L764.3 143.6 L768.0 143.3 L769.0 133.5 L769.6 121.2 L770.8 112.3 L773.1 112.3 L775.3 111.0 L777.2 112.3 L779.8 112.3 L781.3 114.2 L783.0 118.0 L785.6 118.0 L786.5 112.3 L787.5 100.1 L788.5 105.9 L789.4 109.7 L791.1 109.1 L792.6 104.6 L794.5 99.4 L796.5 97.5 L798.4 93.7 L800.9 92.4 L802.9 93.0 L804.1 89.8 L805.4 93.0 L807.3 89.8 L809.3 87.3 L810.5 83.4 L811.8 87.9 L813.1 91.1 L814.4 88.6 L815.7 93.0 L817.6 95.0 L818.9 100.7 L820.2 107.5 L821.8 114.5 L823.4 106.2 L824.7 109.4 L826.4 104.9 L827.9 108.1 L829.5 104.3 L831.1 107.5 L833.0 110.1 L835.4 110.3 L836.9 106.9 L838.2 96.0 L839.7 86.4 L841.0 92.1 L842.7 89.6 L844.3 82.5 L845.9 80.6 L847.4 81.2 L849.1 77.4 L851.0 75.5 L853.5 75.5 L854.8 78.0 L856.4 82.5 L858.4 82.9 L860.2 78.7 L862.5 77.4 L864.4 76.8 L866.3 74.2 L868.3 72.9 L870.2 69.7 L871.5 72.3 L872.7 79.3 L874.7 88.9 L875.9 84.4 L877.2 83.8 L878.9 75.5 L880.4 77.4 L882.0 84.4 L883.6 88.9 L885.5 88.3 L887.5 89.6 L888.7 93.4 L890.0 83.2 L890.9 103.7 L891.9 111.3 L893.9 114.5 L895.5 110.7 L896.4 124.8 L897.7 122.9 L899.0 124.8 L900.3 120.3 L901.9 117.1 L904.8 116.5 L906.3 111.3 L907.6 103.7 L908.0 83.2 L909.9 79.3 L911.8 76.8 L913.7 75.5 L915.6 77.4 L917.3 81.2 L918.6 75.5 L920.1 76.8 L921.1 85.7 L922.7 92.8 L924.6 94.1 L926.8 94.4 L928.4 95.7 L929.7 92.1 L931.0 89.6 L932.7 90.2 L933.6 93.4 L934.8 88.0 L936.5 90.9 L938.0 92.8 L939.6 89.6 L941.2 92.1 L942.5 96.0 L943.2 108.8 L943.8 126.7 L943.9 151.6 L944.3 141.1 L947.6 140.8 L949.3 145.5 L951.6 157.0 L954.3 166.5 L956.4 176.9 L957.7 180.3 L959.1 180.3 L959.6 172.0 L960.0 158.4 L960.5 148.9 L961.8 146.9 L963.4 135.7 L964.8 138.8 L965.8 150.3 L966.8 163.1 L968.2 164.5 L969.2 159.7 L971.2 159.0 L972.2 147.6 L973.2 136.8 L973.6 126.7 L974.1 114.5 L975.4 128.0 L976.7 133.1 L978.0 121.6 L979.7 113.9 L981.6 106.2 L983.5 106.2 L984.8 103.0 L986.4 99.8 L988.0 103.0 L989.5 104.3 L990.8 101.7 L992.1 116.5 L993.7 113.9 L995.4 113.3 L996.9 106.2 L998.2 103.0 L1000.0 104.3 L1001.8 106.3 L1002.8 104.4 L1004.1 117.9 L1005.6 110.8 L1007.3 109.5 L1009.0 109.2 L1010.7 112.1 L1012.0 110.2 L1013.0 93.5 L1015.0 89.1 L1017.5 86.5 L1020.1 84.8 L1022.7 83.5 L1025.2 83.9 L1027.1 84.6 L1028.2 91.0 L1029.4 76.9 L1030.7 76.2 L1032.3 71.8 L1034.2 69.5 L1036.4 70.5 L1038.4 73.7 L1040.2 71.1 L1041.9 69.8 L1043.8 70.2 L1045.7 69.2 L1046.3 73.7 L1047.6 63.8 L1048.9 66.0 L1050.2 73.0 L1051.7 69.8 L1052.7 78.8 L1054.7 76.9 L1056.6 76.6 L1058.5 75.6 L1060.2 82.0 L1061.7 76.2 L1063.6 74.1 L1064.5 82.0 L1065.3 99.9 L1066.8 119.1 L1067.8 128.1 L1069.1 119.8 L1070.4 114.7 L1071.9 100.6 L1073.2 112.7 L1074.5 102.5 L1075.5 99.3 L1077.1 94.2 L1078.3 100.6 L1079.6 94.2 L1080.9 80.7 L1082.2 94.8 L1084.1 97.6 L1085.8 94.2 L1087.3 99.3 L1088.8 102.5 L1090.1 110.2 L1091.4 107.6 L1093.1 99.3 L1094.4 98.7 L1096.0 101.9 L1098.2 105.7 L1099.5 96.1 L1100.4 87.1 L1101.1 79.4 L1102.7 76.9 L1104.6 73.0 L1106.5 70.5 L1108.4 69.0 L1109.7 70.5 L1111.0 67.9 L1112.7 66.6 L1113.6 75.0 L1114.8 73.0 L1116.5 76.2 L1117.8 87.1 L1119.1 92.3 L1120.3 88.4 L1121.2 96.1 L1122.5 101.2 L1123.8 105.1 L1125.1 115.3 L1126.0 123.0 L1126.5 129.3 L1127.9 135.9 L1129.3 129.3 L1130.8 122.3 L1132.4 116.6 L1134.0 108.9 L1135.1 117.2 L1136.6 108.3 L1137.9 116.6 L1139.2 119.1 L1140.1 125.5 L1140.4 133.1 L1141.6 143.0 L1142.8 143.0 L1144.0 138.3 L1145.1 136.4 L1146.6 135.9 L1147.7 131.2 L1148.7 120.8 L1148.9 116.6 L1149.6 123.7 L1150.6 132.2 L1151.5 151.0 L1152.5 167.1 L1153.4 178.4 L1154.2 183.0 L1155.3 178.4 L1156.2 167.1 L1157.2 159.5 L1158.3 156.2 L1159.5 155.7 L1160.5 162.3 L1161.4 172.7 L1162.4 174.6 L1163.3 163.3 L1164.2 163.8 L1165.5 170.8 L1166.6 177.4 L1167.7 177.9 L1168.7 170.8 L1169.4 149.1 L1170.4 135.9 L1171.5 131.7 L1173.0 131.2 L1173.4 125.5 L1174.6 121.8 L1175.7 115.3 L1177.2 112.1 L1180.0 111.5 L1181.3 109.3 L1183.4 109.3 L1185.1 107.4 L1185.4 101.6 L1186.6 101.0 L1187.9 95.9 L1189.2 81.8 L1190.7 77.9 L1192.4 76.0 L1194.3 77.3 L1195.6 80.5 L1196.9 81.8 L1198.2 72.8 L1199.7 75.4 L1201.4 81.1 L1203.0 83.0 L1204.3 75.4 L1205.9 72.8 L1207.8 75.4 L1209.4 79.2 L1211.0 76.6 L1212.3 76.0 L1213.5 85.6 L1215.5 86.2 L1217.4 85.0 L1219.3 85.6 L1221.0 83.7 L1221.9 97.1 L1222.8 109.3 L1223.8 93.9 L1225.3 97.1 L1227.0 95.9 L1228.6 87.5 L1230.2 90.1 L1231.7 90.7 L1233.0 85.0 L1234.7 90.7 L1236.6 93.9 L1238.1 97.1 L1239.8 91.4 L1241.1 90.1 L1242.0 104.8 L1242.7 118.9 L1242.7 126.8 L1243.8 145.1 L1245.0 139.2 L1246.2 146.8 L1248.0 148.0 L1249.7 139.2 L1251.3 141.5 L1252.7 136.2 L1253.9 138.6 L1255.3 151.6 L1256.8 167.5 L1257.4 150.4 L1259.2 149.2 L1260.9 141.5 L1262.7 135.6 L1263.9 134.5 L1266.2 136.8 L1268.0 138.0 L1269.4 141.5 L1270.1 156.3 L1271.0 162.8 L1272.1 157.5 L1273.0 171.6 L1274.2 186.9 L1275.3 182.8 L1276.9 171.6 L1278.0 159.8 L1279.6 153.3 L1281.0 152.7 L1281.9 161.6 L1283.1 151.6 L1284.5 143.9 L1286.3 143.9 L1288.1 148.0 L1290.2 151.0 L1291.4 138.6 L1292.5 124.4 L1293.3 119.7 L1293.6 116.3 L1294.8 119.5 L1296.5 122.7 L1297.8 119.5 L1299.6 118.3 L1301.2 121.5 L1302.5 125.0 L1304.0 130.3 L1305.5 142.1 L1306.7 132.1 L1308.1 136.8 L1309.5 145.1 L1311.4 136.2 L1312.8 143.3 L1314.6 145.7 L1316.4 146.8 L1317.5 153.9 L1318.7 145.1 L1320.1 148.0 L1321.7 152.7 L1323.4 151.0 L1324.9 144.5 L1326.4 138.6 L1327.6 131.5 L1328.8 123.8 L1329.4 117.0 L1330.1 131.1 L1331.1 118.9 L1332.4 137.5 L1333.6 125.3 L1335.2 127.9 L1336.5 113.8 L1338.0 116.3 L1339.7 120.8 L1341.6 113.1 L1342.9 121.5 L1343.5 126.6 L1344.1 138.6 L1345.3 150.4 L1346.4 153.9 L1347.6 151.0 L1349.2 156.3 L1350.8 159.2 L1352.3 155.1 L1353.5 144.5 L1354.3 156.3 L1355.5 160.4 L1357.1 162.2 L1358.6 159.8 L1360.0 155.1 L1361.4 149.2 L1362.4 140.9 L1363.3 131.5 L1364.5 136.2 L1365.7 132.1 L1367.1 124.4 L1367.9 124.4 L1369.4 125.9 L1371.2 123.7 L1373.0 126.3 L1375.2 127.4 L1376.7 127.7 L1377.8 124.1 L1378.2 102.0 L1380.0 104.2 L1381.1 103.5 L1382.6 99.5 L1384.8 97.6 L1386.6 95.8 L1388.1 96.5 L1389.2 94.7 L1390.3 92.1 L1391.4 91.0 L1392.9 91.7 L1394.3 91.7" fill="none" stroke="#000000" stroke-width="2.1" stroke-linejoin="round" stroke-linecap="round"/>
<text x="17.5" y="32" font-size="17.72" font-weight="bold" fill="#000" stroke="#000" stroke-width="0.25" text-anchor="start" textLength="57.1" lengthAdjust="spacingAndGlyphs">$SPX</text>
<text x="82.1" y="32" font-size="16.14" font-weight="normal" fill="#000" stroke="#000" stroke-width="0.4" text-anchor="start" textLength="221.1" lengthAdjust="spacingAndGlyphs">S&amp;P 500 Large Cap Index</text>
<text x="310.1" y="32" font-size="13.29" font-weight="normal" fill="#000" stroke="#000" stroke-width="0.4" text-anchor="start" textLength="37.6" lengthAdjust="spacingAndGlyphs">INDX</text>
<text x="17.5" y="49" font-size="14.14" font-weight="normal" fill="#000" stroke="#000" stroke-width="0.4" text-anchor="start" textLength="154.6" lengthAdjust="spacingAndGlyphs">25-Feb-2026 3:54pm</text>
<text x="1263.3" y="31.5" font-size="14.35" font-weight="normal" fill="#707070" stroke="#707070" stroke-width="0.4" text-anchor="start" textLength="139.1" lengthAdjust="spacingAndGlyphs">© StockCharts.com</text>
<text x="740.8" y="49.2" font-size="16.14" font-weight="bold" fill="#000" stroke="#000" stroke-width="0.25" text-anchor="start" textLength="50.1" lengthAdjust="spacingAndGlyphs">Open</text>
<text x="796.2" y="48.8" font-size="14.03" font-weight="normal" fill="#000" stroke="#000" stroke-width="0.4" text-anchor="start" textLength="59.6" lengthAdjust="spacingAndGlyphs">6915.15</text>
<text x="866.8" y="49.2" font-size="16.14" font-weight="bold" fill="#000" stroke="#000" stroke-width="0.25" text-anchor="start" textLength="42.8" lengthAdjust="spacingAndGlyphs">High</text>
<text x="915.3" y="48.8" font-size="14.03" font-weight="normal" fill="#000" stroke="#000" stroke-width="0.4" text-anchor="start" textLength="58.2" lengthAdjust="spacingAndGlyphs">6952.51</text>
<text x="985.9" y="49.2" font-size="16.14" font-weight="bold" fill="#000" stroke="#000" stroke-width="0.25" text-anchor="start" textLength="37.8" lengthAdjust="spacingAndGlyphs">Low</text>
<text x="1029.9" y="48.8" font-size="14.03" font-weight="normal" fill="#000" stroke="#000" stroke-width="0.4" text-anchor="start" textLength="58.8" lengthAdjust="spacingAndGlyphs">6915.15</text>
<text x="1100.6" y="49.2" font-size="16.14" font-weight="bold" fill="#000" stroke="#000" stroke-width="0.25" text-anchor="start" textLength="40.5" lengthAdjust="spacingAndGlyphs">Last</text>
<text x="1145.4" y="48.8" font-size="14.03" font-weight="normal" fill="#000" stroke="#000" stroke-width="0.4" text-anchor="start" textLength="59.4" lengthAdjust="spacingAndGlyphs">6949.60</text>
<text x="1216.8" y="49.2" font-size="16.14" font-weight="bold" fill="#000" stroke="#000" stroke-width="0.25" text-anchor="start" textLength="36.3" lengthAdjust="spacingAndGlyphs">Chg</text>
<text x="1258.6" y="48.8" font-size="14.03" font-weight="normal" fill="#000" stroke="#000" stroke-width="0.4" text-anchor="start" textLength="127.8" lengthAdjust="spacingAndGlyphs">+59.53 (+0.86%)</text>
<path d="M1390.3 48 L1396 41.8 L1401.6 48 Z" fill="#3d6b2e"/>
<rect x="21.5" y="60" width="12.3" height="3" fill="#000"/>
<rect x="21.5" y="75" width="12.3" height="3" fill="#1d0e86"/>
<text x="38.8" y="67.6" font-size="14.03" font-weight="normal" fill="#000" stroke="#000" stroke-width="0.4" text-anchor="start" textLength="155.3" lengthAdjust="spacingAndGlyphs">$SPX (30 min) 0.83%</text>
<text x="37.7" y="82.6" font-size="14.03" font-weight="normal" fill="#1d0e86" stroke="#1d0e86" stroke-width="0.4" text-anchor="start" textLength="88.2" lengthAdjust="spacingAndGlyphs">$SPT -7.83%</text>
<text x="1422.1" y="67.6" font-size="14.03" font-weight="normal" fill="#000" stroke="#000" stroke-width="0.4" text-anchor="start" textLength="36.8" lengthAdjust="spacingAndGlyphs">1.5%</text>
<text x="1422.1" y="87.6" font-size="14.03" font-weight="normal" fill="#000" stroke="#000" stroke-width="0.4" text-anchor="start" textLength="36.8" lengthAdjust="spacingAndGlyphs">1.0%</text>
<text x="1422.1" y="107.6" font-size="14.03" font-weight="normal" fill="#000" stroke="#000" stroke-width="0.4" text-anchor="start" textLength="36.8" lengthAdjust="spacingAndGlyphs">0.5%</text>
<text x="1422.1" y="127.6" font-size="14.03" font-weight="normal" fill="#000" stroke="#000" stroke-width="0.4" text-anchor="start" textLength="36.8" lengthAdjust="spacingAndGlyphs">0.0%</text>
<text x="1416.1" y="147.6" font-size="14.03" font-weight="normal" fill="#000" stroke="#000" stroke-width="0.4" text-anchor="start" textLength="42.7" lengthAdjust="spacingAndGlyphs">-0.5%</text>
<text x="1416.1" y="167.6" font-size="14.03" font-weight="normal" fill="#000" stroke="#000" stroke-width="0.4" text-anchor="start" textLength="42.7" lengthAdjust="spacingAndGlyphs">-1.0%</text>
<text x="1416.1" y="187.6" font-size="14.03" font-weight="normal" fill="#000" stroke="#000" stroke-width="0.4" text-anchor="start" textLength="42.7" lengthAdjust="spacingAndGlyphs">-1.5%</text>
<text x="1416.1" y="207.6" font-size="14.03" font-weight="normal" fill="#000" stroke="#000" stroke-width="0.4" text-anchor="start" textLength="42.7" lengthAdjust="spacingAndGlyphs">-2.0%</text>
<text x="1416.1" y="227.6" font-size="14.03" font-weight="normal" fill="#000" stroke="#000" stroke-width="0.4" text-anchor="start" textLength="42.7" lengthAdjust="spacingAndGlyphs">-2.5%</text>
<text x="1416.1" y="247.6" font-size="14.03" font-weight="normal" fill="#000" stroke="#000" stroke-width="0.4" text-anchor="start" textLength="42.7" lengthAdjust="spacingAndGlyphs">-3.0%</text>
<text x="1416.1" y="267.6" font-size="14.03" font-weight="normal" fill="#000" stroke="#000" stroke-width="0.4" text-anchor="start" textLength="42.7" lengthAdjust="spacingAndGlyphs">-3.5%</text>
<text x="1416.1" y="287.6" font-size="14.03" font-weight="normal" fill="#000" stroke="#000" stroke-width="0.4" text-anchor="start" textLength="42.7" lengthAdjust="spacingAndGlyphs">-4.0%</text>
<text x="1416.1" y="307.6" font-size="14.03" font-weight="normal" fill="#000" stroke="#000" stroke-width="0.4" text-anchor="start" textLength="42.7" lengthAdjust="spacingAndGlyphs">-4.5%</text>
<text x="1416.1" y="327.6" font-size="14.03" font-weight="normal" fill="#000" stroke="#000" stroke-width="0.4" text-anchor="start" textLength="42.7" lengthAdjust="spacingAndGlyphs">-5.0%</text>
<text x="1416.1" y="347.6" font-size="14.03" font-weight="normal" fill="#000" stroke="#000" stroke-width="0.4" text-anchor="start" textLength="42.7" lengthAdjust="spacingAndGlyphs">-5.5%</text>
<text x="1416.1" y="367.6" font-size="14.03" font-weight="normal" fill="#000" stroke="#000" stroke-width="0.4" text-anchor="start" textLength="42.7" lengthAdjust="spacingAndGlyphs">-6.0%</text>
<text x="1416.1" y="387.6" font-size="14.03" font-weight="normal" fill="#000" stroke="#000" stroke-width="0.4" text-anchor="start" textLength="42.7" lengthAdjust="spacingAndGlyphs">-6.5%</text>
<text x="1416.1" y="407.6" font-size="14.03" font-weight="normal" fill="#000" stroke="#000" stroke-width="0.4" text-anchor="start" textLength="42.7" lengthAdjust="spacingAndGlyphs">-7.0%</text>
<text x="1416.1" y="427.6" font-size="14.03" font-weight="normal" fill="#000" stroke="#000" stroke-width="0.4" text-anchor="start" textLength="42.7" lengthAdjust="spacingAndGlyphs">-7.5%</text>
<text x="1416.1" y="447.6" font-size="14.03" font-weight="normal" fill="#000" stroke="#000" stroke-width="0.4" text-anchor="start" textLength="42.7" lengthAdjust="spacingAndGlyphs">-8.0%</text>
<text x="1416.1" y="467.6" font-size="14.03" font-weight="normal" fill="#000" stroke="#000" stroke-width="0.4" text-anchor="start" textLength="42.7" lengthAdjust="spacingAndGlyphs">-8.5%</text>
<text x="1416.1" y="487.6" font-size="14.03" font-weight="normal" fill="#000" stroke="#000" stroke-width="0.4" text-anchor="start" textLength="42.7" lengthAdjust="spacingAndGlyphs">-9.0%</text>
<text x="1416.1" y="507.6" font-size="14.03" font-weight="normal" fill="#000" stroke="#000" stroke-width="0.4" text-anchor="start" textLength="42.7" lengthAdjust="spacingAndGlyphs">-9.5%</text>
<text x="1407.9" y="527.6" font-size="14.03" font-weight="normal" fill="#000" stroke="#000" stroke-width="0.4" text-anchor="start" textLength="51.0" lengthAdjust="spacingAndGlyphs">-10.0%</text>
<text x="1407.9" y="547.6" font-size="14.03" font-weight="normal" fill="#000" stroke="#000" stroke-width="0.4" text-anchor="start" textLength="51.0" lengthAdjust="spacingAndGlyphs">-10.5%</text>
<text x="1407.9" y="567.6" font-size="14.03" font-weight="normal" fill="#000" stroke="#000" stroke-width="0.4" text-anchor="start" textLength="51.0" lengthAdjust="spacingAndGlyphs">-11.0%</text>
<text x="1407.9" y="587.6" font-size="14.03" font-weight="normal" fill="#000" stroke="#000" stroke-width="0.4" text-anchor="start" textLength="51.0" lengthAdjust="spacingAndGlyphs">-11.5%</text>
<text x="1407.9" y="607.6" font-size="14.03" font-weight="normal" fill="#000" stroke="#000" stroke-width="0.4" text-anchor="start" textLength="51.0" lengthAdjust="spacingAndGlyphs">-12.0%</text>
<text x="1407.9" y="627.6" font-size="14.03" font-weight="normal" fill="#000" stroke="#000" stroke-width="0.4" text-anchor="start" textLength="51.0" lengthAdjust="spacingAndGlyphs">-12.5%</text>
<text x="37.1" y="659.2" font-size="16.46" font-weight="bold" fill="#000" stroke="#000" stroke-width="0.25" text-anchor="start" textLength="36.6" lengthAdjust="spacingAndGlyphs">Nov</text>
<text x="129.2" y="659.2" font-size="14.03" font-weight="normal" fill="#000" stroke="#000" stroke-width="0.4" text-anchor="start" textLength="18.8" lengthAdjust="spacingAndGlyphs">10</text>
<text x="216.2" y="659.2" font-size="14.03" font-weight="normal" fill="#000" stroke="#000" stroke-width="0.4" text-anchor="start" textLength="18.8" lengthAdjust="spacingAndGlyphs">17</text>
<text x="303.7" y="659.2" font-size="14.03" font-weight="normal" fill="#000" stroke="#000" stroke-width="0.4" text-anchor="start" textLength="18.8" lengthAdjust="spacingAndGlyphs">24</text>
<text x="361.9" y="659.2" font-size="16.46" font-weight="bold" fill="#000" stroke="#000" stroke-width="0.25" text-anchor="start" textLength="36.0" lengthAdjust="spacingAndGlyphs">Dec</text>
<text x="458.5" y="659.2" font-size="14.03" font-weight="normal" fill="#000" stroke="#000" stroke-width="0.4" text-anchor="start" textLength="10.2" lengthAdjust="spacingAndGlyphs">8</text>
<text x="540.2" y="659.2" font-size="14.03" font-weight="normal" fill="#000" stroke="#000" stroke-width="0.4" text-anchor="start" textLength="18.8" lengthAdjust="spacingAndGlyphs">15</text>
<text x="627.2" y="659.2" font-size="14.03" font-weight="normal" fill="#000" stroke="#000" stroke-width="0.4" text-anchor="start" textLength="18.8" lengthAdjust="spacingAndGlyphs">22</text>
<text x="690.7" y="659.2" font-size="14.03" font-weight="normal" fill="#000" stroke="#000" stroke-width="0.4" text-anchor="start" textLength="18.8" lengthAdjust="spacingAndGlyphs">29</text>
<text x="732.6" y="659.2" font-size="16.46" font-weight="bold" fill="#000" stroke="#000" stroke-width="0.25" text-anchor="start" textLength="47.7" lengthAdjust="spacingAndGlyphs">2026</text>
<text x="847.2" y="659.2" font-size="14.03" font-weight="normal" fill="#000" stroke="#000" stroke-width="0.4" text-anchor="start" textLength="18.8" lengthAdjust="spacingAndGlyphs">12</text>
<text x="934.7" y="659.2" font-size="14.03" font-weight="normal" fill="#000" stroke="#000" stroke-width="0.4" text-anchor="start" textLength="18.8" lengthAdjust="spacingAndGlyphs">20</text>
<text x="1004.2" y="659.2" font-size="14.03" font-weight="normal" fill="#000" stroke="#000" stroke-width="0.4" text-anchor="start" textLength="18.8" lengthAdjust="spacingAndGlyphs">26</text>
<text x="1087.0" y="659.2" font-size="16.46" font-weight="bold" fill="#000" stroke="#000" stroke-width="0.25" text-anchor="start" textLength="34.9" lengthAdjust="spacingAndGlyphs">Feb</text>
<text x="1181.5" y="659.2" font-size="14.03" font-weight="normal" fill="#000" stroke="#000" stroke-width="0.4" text-anchor="start" textLength="10.2" lengthAdjust="spacingAndGlyphs">9</text>
<text x="1264.7" y="659.2" font-size="14.03" font-weight="normal" fill="#000" stroke="#000" stroke-width="0.4" text-anchor="start" textLength="18.8" lengthAdjust="spacingAndGlyphs">17</text>
<text x="1334.2" y="659.2" font-size="14.03" font-weight="normal" fill="#000" stroke="#000" stroke-width="0.4" text-anchor="start" textLength="18.8" lengthAdjust="spacingAndGlyphs">23</text>
</svg></div></body></html>
